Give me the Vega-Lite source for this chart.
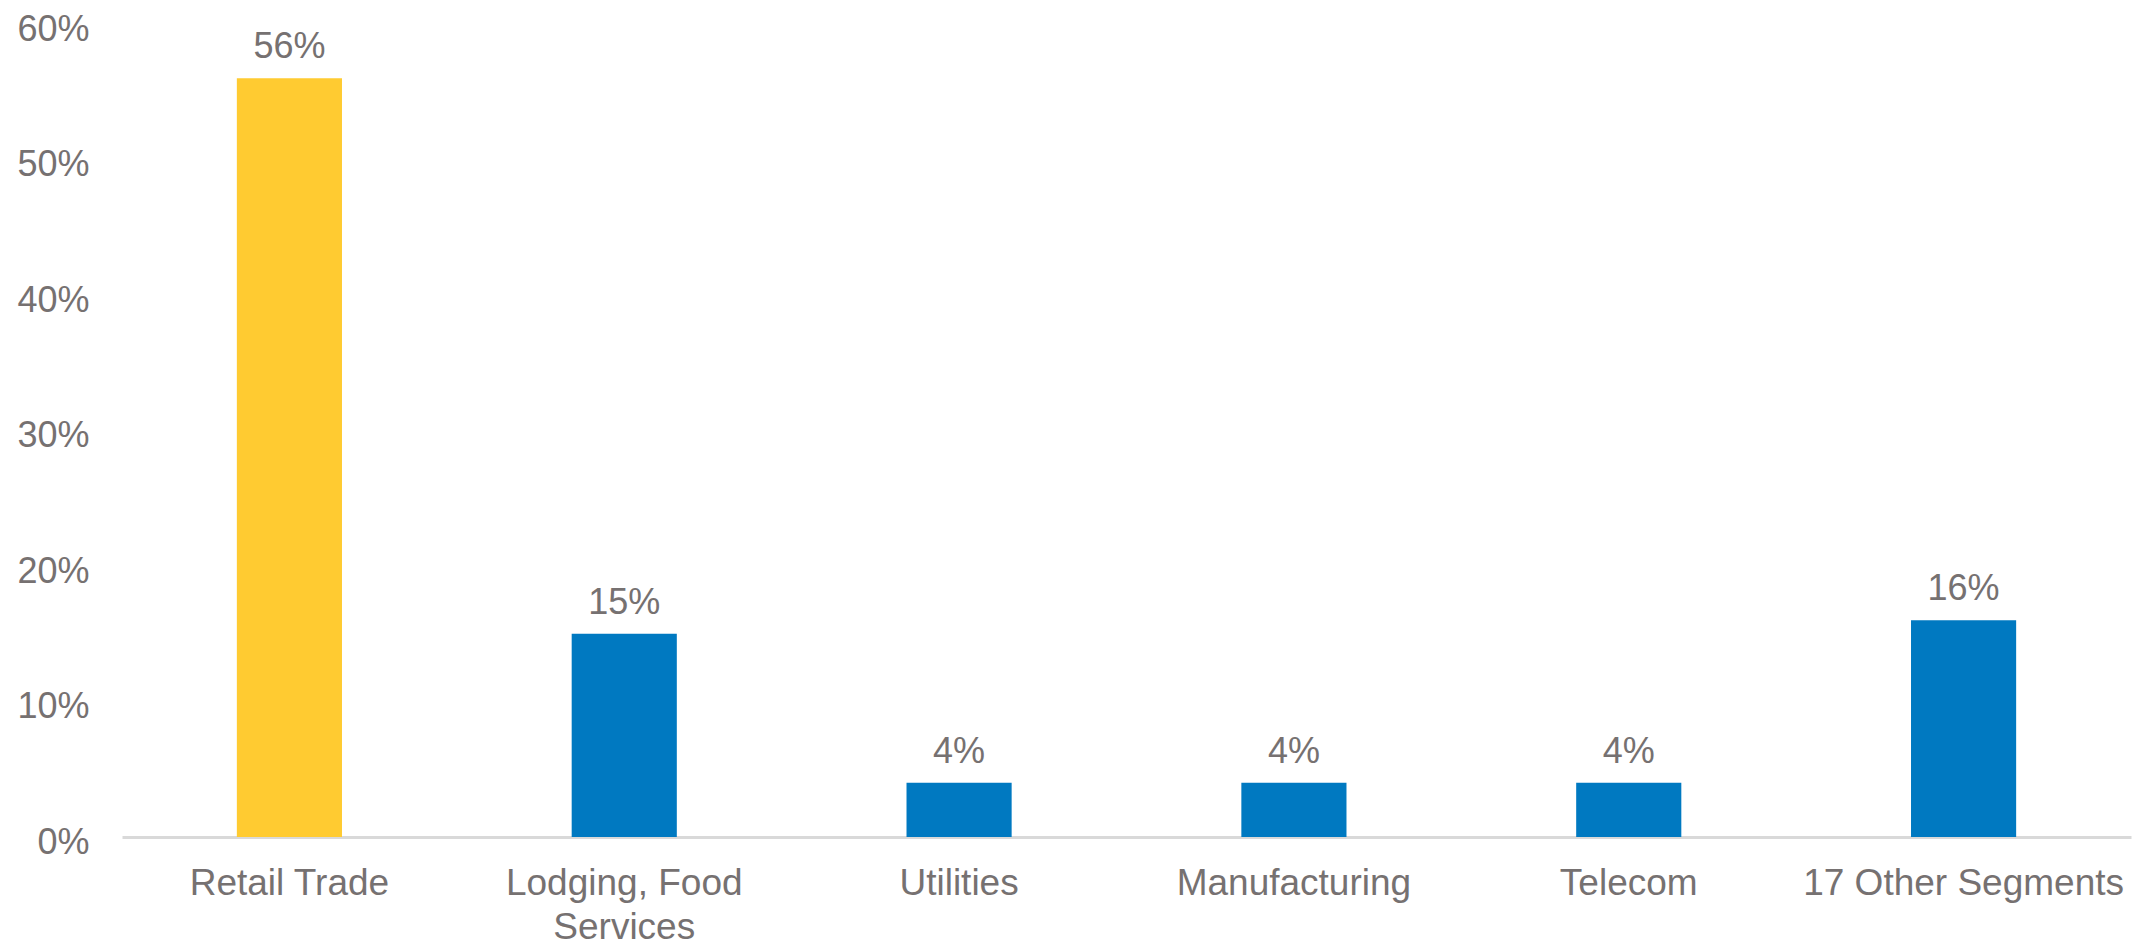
{
  "$schema": "https://vega.github.io/schema/vega-lite/v6.json",
  "width": 2009,
  "height": 813,
  "autosize": {"type": "none"},
  "padding": {"left": 122, "top": 24, "right": 8, "bottom": 105},
  "background": "white",
  "config": {
    "view": {"stroke": null},
    "font": "Liberation Sans",
    "text": {"font": "Liberation Sans"}
  },
  "data": {
    "values": [
      {"category": "Retail Trade", "share": 0.56},
      {"category": "Lodging, Food Services", "share": 0.15},
      {"category": "Utilities", "share": 0.04},
      {"category": "Manufacturing", "share": 0.04},
      {"category": "Telecom", "share": 0.04},
      {"category": "17 Other Segments", "share": 0.16}
    ]
  },
  "encoding": {
    "x": {
      "field": "category",
      "type": "nominal",
      "sort": null,
      "scale": {"paddingInner": 0.686, "paddingOuter": 0.343},
      "axis": {
        "title": null,
        "labelAngle": 0,
        "labelFont": "Liberation Sans",
        "labelFontSize": 37,
        "labelColor": "#767171",
        "labelPadding": 28,
        "labelLineHeight": 44,
        "labelBaseline": "top",
        "labelLimit": 0,
        "labelOverlap": false,
        "ticks": false,
        "domainColor": "#D9D9D9",
        "domainWidth": 3,
        "grid": false,
        "labelExpr": "datum.value == 'Lodging, Food Services' ? ['Lodging, Food', 'Services'] : datum.label"
      }
    },
    "y": {
      "field": "share",
      "type": "quantitative",
      "scale": {"domain": [0, 0.6], "nice": false},
      "axis": {
        "title": null,
        "format": ".0%",
        "values": [0, 0.1, 0.2, 0.3, 0.4, 0.5, 0.6],
        "labelFont": "Liberation Sans",
        "labelFontSize": 36,
        "labelColor": "#767171",
        "labelPadding": 33,
        "labelOffset": 5,
        "ticks": false,
        "domain": false,
        "grid": false
      }
    }
  },
  "layer": [
    {
      "mark": {"type": "bar"},
      "encoding": {
        "color": {
          "condition": {"test": "datum.category == 'Retail Trade'", "value": "#FFCB31"},
          "value": "#0079C1"
        }
      }
    },
    {
      "mark": {
        "type": "text",
        "baseline": "alphabetic",
        "dy": -20,
        "fontSize": 36,
        "font": "Liberation Sans",
        "color": "#767171"
      },
      "encoding": {
        "text": {"field": "share", "type": "quantitative", "format": ".0%"}
      }
    }
  ]
}
